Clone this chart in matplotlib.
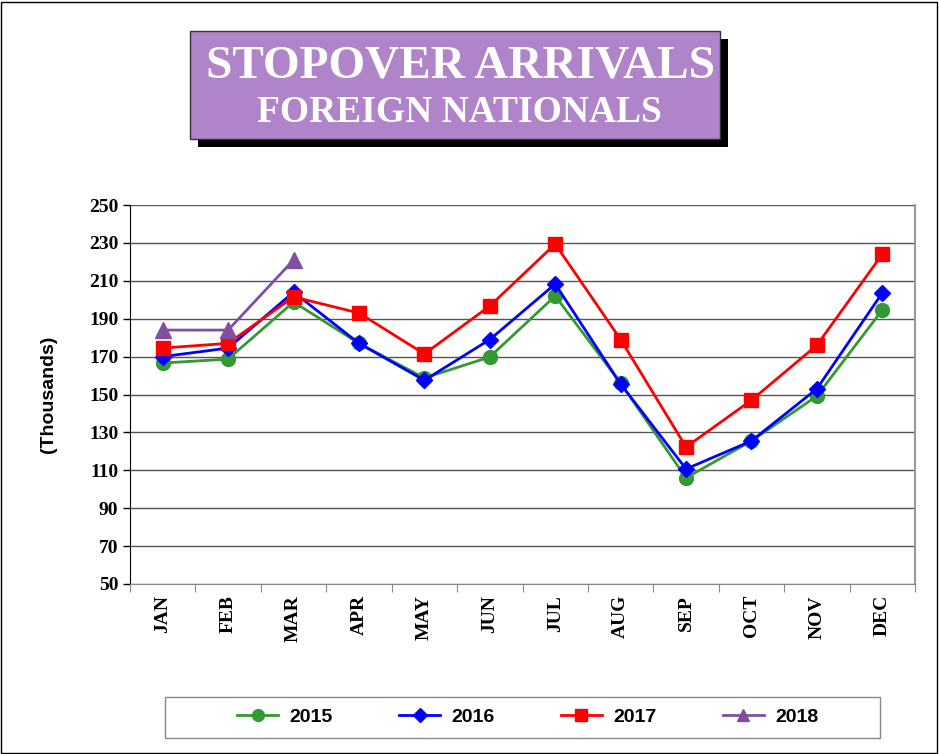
import matplotlib
matplotlib.use("Agg")
import matplotlib.pyplot as plt
from matplotlib.patches import Rectangle
from matplotlib.lines import Line2D

months = ["JAN", "FEB", "MAR", "APR", "MAY", "JUN", "JUL", "AUG", "SEP", "OCT", "NOV", "DEC"]
y2015 = [166.6, 168.7, 198.8, 177.0, 158.7, 169.8, 202.0, 156.0, 106.0, 125.5, 149.2, 194.6]
y2016 = [170.0, 174.5, 204.0, 177.0, 157.5, 179.0, 208.3, 155.5, 110.7, 125.5, 153.0, 203.6]
y2017 = [174.5, 177.0, 201.5, 193.0, 171.4, 196.7, 229.4, 179.0, 122.3, 147.0, 176.0, 224.0]
y2018 = [184.0, 184.0, 221.0]
yticks = list(range(50, 251, 20))

W, H = 939, 754
fig = plt.figure(figsize=(W / 100, H / 100), dpi=100)

# outer frame
fig.patches.append(Rectangle((1 / W, 1 / H), 1 - 3 / W, 1 - 3 / H, transform=fig.transFigure,
                             fill=False, edgecolor="black", linewidth=1))

# plot area
ax = fig.add_axes([130 / W, 1 - 584 / H, 785 / W, 379 / H])
x = range(len(months))
ax.plot(x, y2015, color="#339933", marker="o", markersize=10, linewidth=2, label="2015")
ax.plot(x, y2016, color="#0000ff", marker="D", markersize=8, linewidth=2, label="2016")
ax.plot(x, y2017, color="#ff0000", marker="s", markersize=10, linewidth=2, label="2017")
ax.plot(range(len(y2018)), y2018, color="#80509f", marker="^", markersize=11, linewidth=2, label="2018")

ax.set_xlim(-0.5, 11.5)
ax.set_ylim(50, 250)
ax.set_yticks(yticks)
ax.set_yticklabels([str(v) for v in yticks], fontfamily="Liberation Serif", fontweight="bold", fontsize=14)
ax.yaxis.grid(True, color="#555555", linewidth=1)
ax.set_axisbelow(True)

ax.set_xticks([i + 0.5 for i in range(-1, 12)], minor=False)
ax.set_xticklabels([])
ax.set_xticks(list(x), minor=True)
ax.set_xticklabels(months, minor=True, rotation=90, fontfamily="Liberation Serif",
                   fontweight="bold", fontsize=14)
ax.tick_params(axis="x", which="minor", length=0, pad=8)
ax.tick_params(axis="x", which="major", length=6, color="#888888")
ax.tick_params(axis="y", length=5, width=1)

ax.spines["top"].set_visible(False)
ax.spines["left"].set_color("black")
ax.spines["right"].set_color("#999999")
ax.spines["right"].set_linewidth(1.5)
ax.spines["bottom"].set_color("#888888")

fig.text(48 / W, 1 - 394 / H, "(Thousands)", rotation=90, ha="center", va="center",
         fontfamily="Liberation Sans", fontweight="bold", fontsize=14)

# title box with shadow
fig.patches.append(Rectangle((198 / W, 1 - 147 / H), 530 / W, 108 / H, transform=fig.transFigure,
                             facecolor="black", edgecolor="none"))
fig.patches.append(Rectangle((190 / W, 1 - 139 / H), 530 / W, 108 / H, transform=fig.transFigure,
                             facecolor="#b084c8", edgecolor="#333333", linewidth=1))
fig.text(460 / W, 1 - 66 / H, "STOPOVER ARRIVALS", ha="center", va="center", color="white",
         fontfamily="Liberation Serif", fontweight="bold", fontsize=34)
fig.text(459 / W, 1 - 112 / H, "FOREIGN NATIONALS", ha="center", va="center", color="white",
         fontfamily="Liberation Serif", fontweight="bold", fontsize=27)

# legend box
fig.patches.append(Rectangle((165 / W, 1 - 738 / H), 715 / W, 41 / H, transform=fig.transFigure,
                             fill=False, edgecolor="#888888", linewidth=1))
handles, labels = ax.get_legend_handles_labels()
handles = [Line2D([], [], color=h.get_color(), marker=h.get_marker(), linewidth=2,
                  markersize=h.get_markersize() * 0.85) for h in handles]
fig.legend(handles, labels, loc="center", bbox_to_anchor=(528 / W, 1 - 717 / H), ncol=4,
           frameon=False, columnspacing=3.4, handlelength=2.1, handletextpad=0.6,
           prop={"family": "Liberation Sans", "weight": "bold", "size": 14})

fig.savefig("out.png", dpi=100)
